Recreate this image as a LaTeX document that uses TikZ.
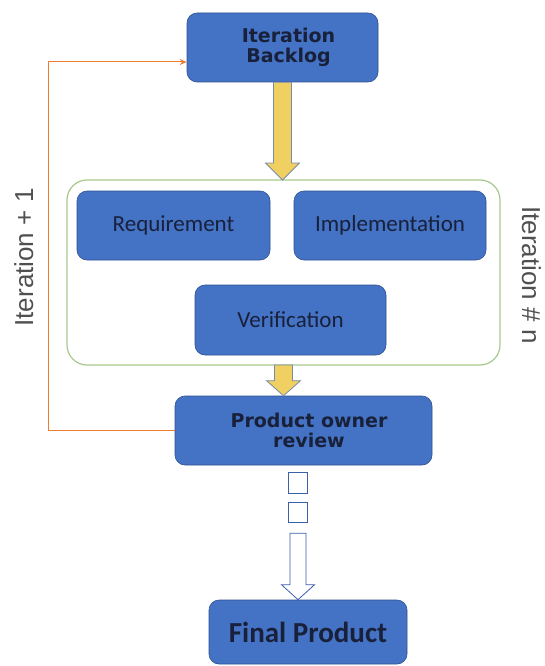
\documentclass[tikz,border=0pt]{standalone}
\usepackage{fontspec}
\setmainfont{Carlito}
\newfontfamily\labelfont{Liberation Sans}
\newfontfamily\headfont{DejaVu Sans}
\usetikzlibrary{calc,arrows.meta}

\definecolor{boxblue}{RGB}{68,114,196}
\definecolor{boxedge}{RGB}{47,82,143}
\definecolor{boxtext}{RGB}{24,32,58}
\definecolor{arrowfill}{RGB}{240,208,96}
\definecolor{arrowedge}{RGB}{120,140,170}
\definecolor{framegreen}{RGB}{169,200,140}
\definecolor{loopline}{RGB}{237,125,49}
\definecolor{sidegray}{RGB}{80,80,80}
\definecolor{hollowedge}{RGB}{60,95,170}

\tikzset{
  stage/.style={draw=boxedge, line width=0.6pt, fill=boxblue, rounded corners=10pt,
    text=boxtext, align=center, inner sep=0pt, font=\fontsize{23}{24}\selectfont},
  headstage/.style={stage, font=\headfont\bfseries\fontsize{19}{20}\selectfont},
  phaseframe/.style={draw=framegreen, line width=1.2pt, rounded corners=20pt},
  sidelabel/.style={text=sidegray, font=\labelfont\fontsize{26}{28}\selectfont, inner sep=0pt},
  fatarrow/.style={draw=arrowedge, line width=0.8pt, fill=arrowfill, line join=miter},
  hollow/.style={draw=hollowedge, line width=0.8pt, fill=white},
  feedback/.style={draw=loopline, line width=1pt, -{Stealth[length=7pt,width=6pt]}},
}

% downward block arrow from #2 to #3: shaft half width, head half width, head length
\newcommand\blockarrow[6][fatarrow]{%
  \draw[#1] let \p1=(#2), \p2=(#3) in
    ($(\x1-#4pt,\y1)$) -- ($(\x1+#4pt,\y1)$) -- ($(\x1+#4pt,\y2+#6pt)$) --
    ($(\x1+#5pt,\y2+#6pt)$) -- (\x1,\y2) -- ($(\x1-#5pt,\y2+#6pt)$) --
    ($(\x1-#4pt,\y2+#6pt)$) -- cycle;}

\begin{document}
\begin{tikzpicture}[x=1pt,y=-1pt]
\useasboundingbox (0,0) rectangle (544,666);
\fill[white] (0,0) rectangle (544,666);

% iteration container
\draw[phaseframe] (67,180) rectangle (500,365);
\coordinate (frametop) at (283.5,180);
\coordinate (framebot) at (283.5,365);

% stages
\node[headstage, minimum width=191pt, minimum height=69pt] (backlog) at (282.5,47.5) {\hspace*{12pt}Iteration\\\hspace*{12pt}Backlog};
\node[stage, minimum width=193pt, minimum height=69pt] (req) at (173.5,225.5) {Requirement};
\node[stage, minimum width=192pt, minimum height=69pt] (impl) at (390,225.5) {Implementation};
\node[stage, minimum width=191pt, minimum height=70pt] (verif) at (290.5,320) {Verification};
\node[headstage, minimum width=257pt, minimum height=69pt] (review) at (303.5,430.5) {\hspace*{11pt}Product owner\\\hspace*{11pt}review};
\node[stage, minimum width=198pt, minimum height=64pt, font=\bfseries\fontsize{29}{30}\selectfont] (final) at (308,632) {Final Product};

% yellow flow arrows
\blockarrow{backlog.south}{frametop}{9}{17}{17}
\blockarrow{framebot}{review.north}{9}{17}{15}

% dashed hollow arrow to the final product
\coordinate (hstart) at ($(review.south)+(-5.5pt,-7pt)$);
\draw[hollow] ($(hstart)+(-9.5pt,0)$) rectangle ++(19pt,-21pt);
\draw[hollow] ($(hstart)+(-9.5pt,-30pt)$) rectangle ++(19pt,-20pt);
\coordinate (hshaft) at ($(hstart)+(0,-61pt)$);
\blockarrow[hollow]{hshaft}{final.north}{8}{16.5}{15}

% feedback loop
\coordinate (loopx) at (48,0);
\draw[feedback] (review.west) -- (review.west -| loopx) |- ([yshift=-14.5pt]backlog.west);

% side labels
\node[sidelabel, rotate=90, anchor=base] (nextit) at (33,257.5) {Iteration + 1};
\node[sidelabel, rotate=-90, anchor=base] (curit) at (522,275) {Iteration \# n};
\end{tikzpicture}
\end{document}
